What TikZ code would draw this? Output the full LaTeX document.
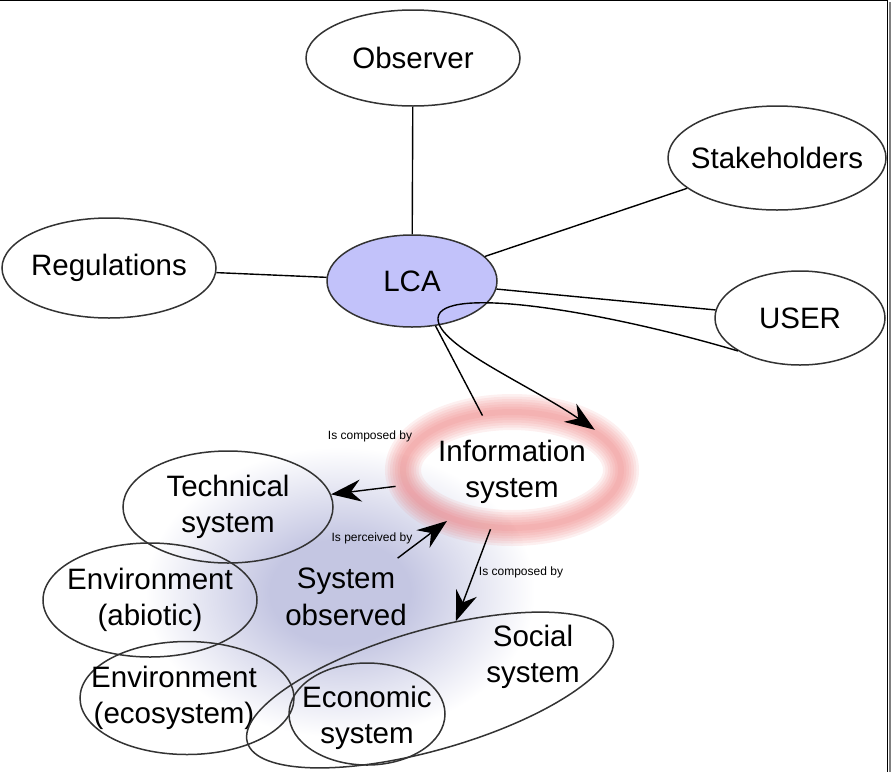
\documentclass[tikz,border=0pt]{standalone}
\usepackage{fontspec}
\setmainfont{Liberation Sans}
\usetikzlibrary{arrows.meta,shapes}

\definecolor{lcablue}{RGB}{194,194,250}
\definecolor{blobblue}{RGB}{196,198,226}
\definecolor{glowred}{RGB}{235,110,110}
\pgfdeclareradialshading{blobshade}{\pgfpoint{0bp}{0bp}}{color(0bp)=(blobblue); color(9bp)=(blobblue); color(25bp)=(white); color(50bp)=(white)}
\newcommand{\bigtxt}{\fontsize{29.5}{36.5}\selectfont}
\newcommand{\smalltxt}{\fontsize{12}{14}\selectfont}

\begin{document}
\begin{tikzpicture}[x=1pt,y=-1pt,>={Stealth[length=30pt,width=22pt,inset=10pt]},
  every edge/.append style={line width=1.4pt},
  main node/.style={draw=black!80,line width=1.5pt,ellipse,inner sep=0pt,
    label={[align=center,font=\bigtxt]center:#1}},
  glow node/.style={ellipse,inner sep=0pt,align=center,font=\bigtxt},
  tag node/.style={font=\smalltxt,inner sep=0pt}]

  \useasboundingbox (0,0) rectangle (891,772);

  % the system observed, a soft blue cloud
  \shade[shading=blobshade] (340,592) ellipse (195 and 145);
  % red glow round the information system
  \foreach \w in {36,31,26,21,16,11,6}
    \draw[glowred,opacity=0.1,line width=\w pt] (512,470) ellipse (109 and 58);

  \node[main node=Observer,minimum width=214pt,minimum height=96pt] (observer) at (413,58) {};
  \node[main node=Stakeholders,minimum width=218pt,minimum height=104pt] (stakeholders) at (777,158) {};
  \node[main node=Regulations,minimum width=214pt,minimum height=100pt] (regulations) at (109,268) {};
  \node[main node=LCA,fill=lcablue,minimum width=170pt,minimum height=92pt] (lca) at (412,281) {};
  \node[main node=USER,minimum width=170pt,minimum height=94pt] (user) at (800,318) {};
  \node[glow node,minimum width=240pt,minimum height=116pt] (info) at (512,472) {Information\\system};
  \node[main node={Technical\\system},minimum width=210pt,minimum height=112pt] (technical) at (228,507) {};
  \node[main node={Environment\\(abiotic)},minimum width=214pt,minimum height=114pt] (abiotic) at (150,600) {};
  \node[draw=black!80,line width=1.5pt,ellipse,inner sep=0pt,minimum width=214pt,minimum height=113pt,
    label={[align=center,font=\bigtxt,xshift=-13pt]center:Environment\\(ecosystem)}] (ecosystem) at (187,698) {};
  \node[font=\bigtxt,align=center,inner sep=10pt] (observed) at (346,597) {System\\observed};
  \node[main node=,rotate=16,minimum width=380pt,minimum height=120pt] (social) at (430,690) {};
  \node[font=\bigtxt,align=center] (socialtext) at (533,657) {Social\\system};
  \node[draw=black!80,line width=1.5pt,ellipse,inner sep=0pt,minimum width=156pt,minimum height=102pt,
    label={[align=center,font=\bigtxt,yshift=-4pt]center:Economic\\system}] (economic) at (367,714) {};

  \node[tag node] (tag1) at (370,436) {Is composed by};
  \node[tag node] (tag2) at (372,538) {Is perceived by};
  \node[tag node] (tag3) at (521,572) {Is composed by};

  \coordinate (hook) at (438,318);

  \path
    (observer) edge (lca)
    (stakeholders) edge (lca)
    (regulations) edge (lca)
    (user) edge (lca)
    (lca) edge (info);
  \path[->]
    (info) edge (technical)
    (observed) edge (info)
    (info) edge (social);
  \draw[->,line width=1.4pt] (user.208) .. controls (600,310) and (440,285) .. (hook)
    .. controls (436,345) and (530,385) .. (info.27);

  % frame
  \draw[line width=1pt] (0,0.5) -- (887.5,0.5) -- (887.5,772);
  \draw[gray,line width=2pt] (889.5,2) -- (889.5,772);
\end{tikzpicture}
\end{document}
